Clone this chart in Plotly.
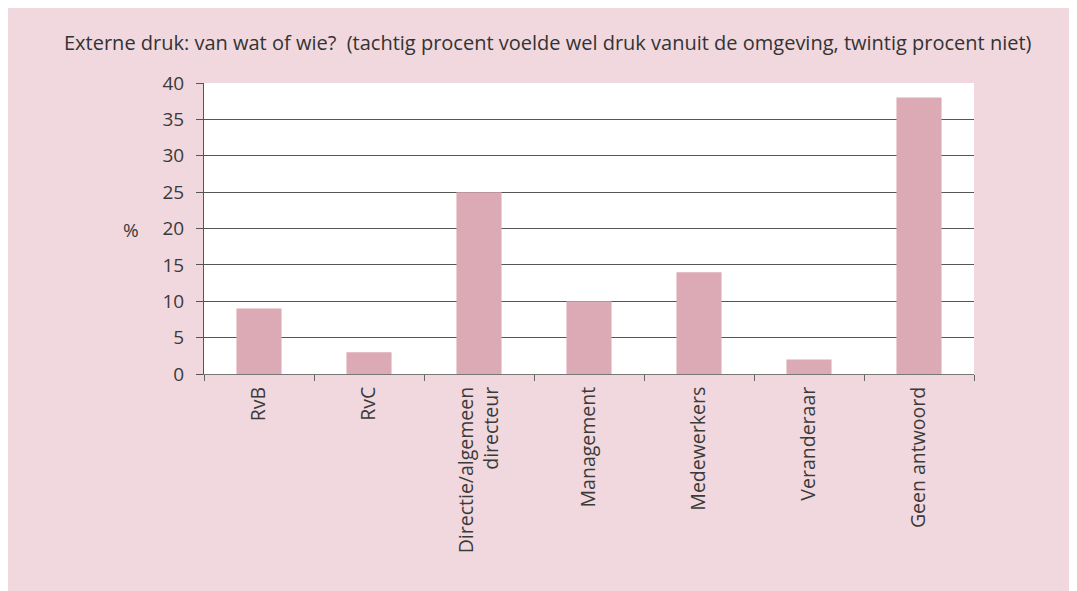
import plotly.graph_objects as go

categories = ["RvB", "RvC", "Directie/algemeen<br>directeur", "Management",
              "Medewerkers", "Veranderaar", "Geen antwoord"]
values = [9, 3, 25, 10, 14, 2, 38]
y_ticks = [0, 5, 10, 15, 20, 25, 30, 35, 40]

title_text = "Externe druk: van wat of wie?  (tachtig procent voelde wel druk vanuit de omgeving, twintig procent niet)"

PINK = "#f1d8de"
BAR = "#dcaab4"
FONT = "Open Sans, Noto Sans, sans-serif"

# page body has an 8px margin; the figure runs to the window edges
OFF = 8
W, H = 1077, 591
L = 204 - OFF
T = 83 - OFF
R = W - (974 - OFF)
B = H - (374 - OFF)
plot_h = H - T - B
plot_w = W - L - R

fig = go.Figure(go.Bar(
    x=categories, y=values,
    marker=dict(color=BAR, line=dict(width=0)),
    width=0.41,
    hoverinfo="x+y",
))

fig.update_layout(
    width=W, height=H,
    margin=dict(l=L, r=R, t=T, b=B, autoexpand=False),
    paper_bgcolor=PINK,
    plot_bgcolor="white",
    showlegend=False,
    font=dict(family=FONT, color="#3a3a3a"),
    xaxis=dict(
        type="category",
        tickangle=-90,
        tickson="boundaries",
        ticks="outside", ticklen=6, tickcolor="#666", tickwidth=1,
        showline=True, linecolor="#777", linewidth=1,
        showgrid=False,
        tickfont=dict(size=19.5, color="#3a3a3a", family=FONT),
        ticklabelstandoff=4,
        range=[-0.5, 6.5],
    ),
    yaxis=dict(
        range=[0, 40],
        tickvals=y_ticks,
        ticks="outside", ticklen=7, tickcolor="#555", tickwidth=1,
        showline=True, linecolor="#555", linewidth=1,
        showgrid=True, gridcolor="#555", gridwidth=1,
        zeroline=False,
        tickfont=dict(size=19, color="#3a3a3a", family=FONT),
        ticklabelstandoff=8,
    ),
    annotations=[
        dict(text=title_text, xref="paper", yref="paper",
             x=(62 - OFF - L) / plot_w, y=1 + (T - (42 - OFF)) / plot_h,
             xanchor="left", yanchor="middle", showarrow=False,
             font=dict(size=20, color="#333", family=FONT)),
        dict(text="%", xref="paper", yref="paper",
             x=(131 - OFF - L) / plot_w, y=(H - B - (230 - OFF)) / plot_h,
             xanchor="center", yanchor="middle", showarrow=False,
             font=dict(size=19, color="#3a3a3a", family=FONT)),
    ],
)

fig.write_html("out.html", post_script="document.body.style.overflow='hidden';")
